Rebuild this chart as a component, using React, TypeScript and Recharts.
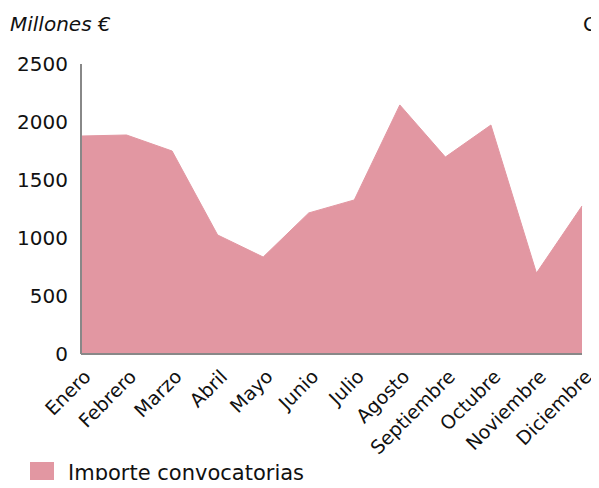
import { AreaChart, Area, XAxis, YAxis } from 'recharts'

const MONTHS = ['Enero', 'Febrero', 'Marzo', 'Abril', 'Mayo', 'Junio', 'Julio', 'Agosto', 'Septiembre', 'Octubre', 'Noviembre', 'Diciembre']
const IMPORTE = [1879, 1888, 1750, 1026, 836, 1216, 1328, 2147, 1698, 1974, 698, 1276]
const Y_TICKS = [0, 500, 1000, 1500, 2000, 2500]

const FILL = '#E297A2'
const FONT = '"DejaVu Sans", sans-serif'

const data = MONTHS.map((m, i) => ({ mes: m, importe: IMPORTE[i] }))

const MonthTick = (props: any) => {
    const { x, y, payload } = props
    return (
        <g transform={`translate(${x + 1},${y + 6})`}>
            <text transform="rotate(-45)" textAnchor="end" dy={14} fontSize={19} fill="#111" fontFamily={FONT}>
                {payload.value}
            </text>
        </g>
    )
}

const App = () => {
    return (
        <div style={{ position: 'relative', width: 599, height: 488, fontFamily: FONT, margin: -8 }}>
            <div style={{ position: 'absolute', left: 10, top: 12, fontSize: 20, fontStyle: 'italic', color: '#111' }}>
                Millones €
            </div>
            <div style={{ position: 'absolute', left: 583, top: 12, fontSize: 20, color: '#111' }}>C</div>
            <AreaChart width={599} height={488} data={data} margin={{ top: 64, right: 17, left: 11, bottom: 24 }}>
                <YAxis
                    domain={[0, 2500]}
                    ticks={Y_TICKS}
                    width={70}
                    tickLine={false}
                    tickSize={0}
                    tickMargin={13}
                    axisLine={{ stroke: '#888', strokeWidth: 2 }}
                    tick={{ fontSize: 20, fill: '#111', fontFamily: FONT }}
                />
                <XAxis
                    dataKey="mes"
                    interval={0}
                    height={110}
                    tickLine={false}
                    axisLine={{ stroke: '#888', strokeWidth: 2 }}
                    tick={<MonthTick />}
                />
                <Area
                    type="linear"
                    dataKey="importe"
                    fill={FILL}
                    fillOpacity={1}
                    stroke={FILL}
                    isAnimationActive={false}
                />
            </AreaChart>
            <div style={{ position: 'absolute', left: 30, top: 461, display: 'flex', alignItems: 'center' }}>
                <div style={{ width: 24, height: 22, background: FILL, marginRight: 14 }} />
                <span style={{ fontSize: 21, color: '#111' }}>Importe convocatorias</span>
            </div>
        </div>
    )
}

export default App
